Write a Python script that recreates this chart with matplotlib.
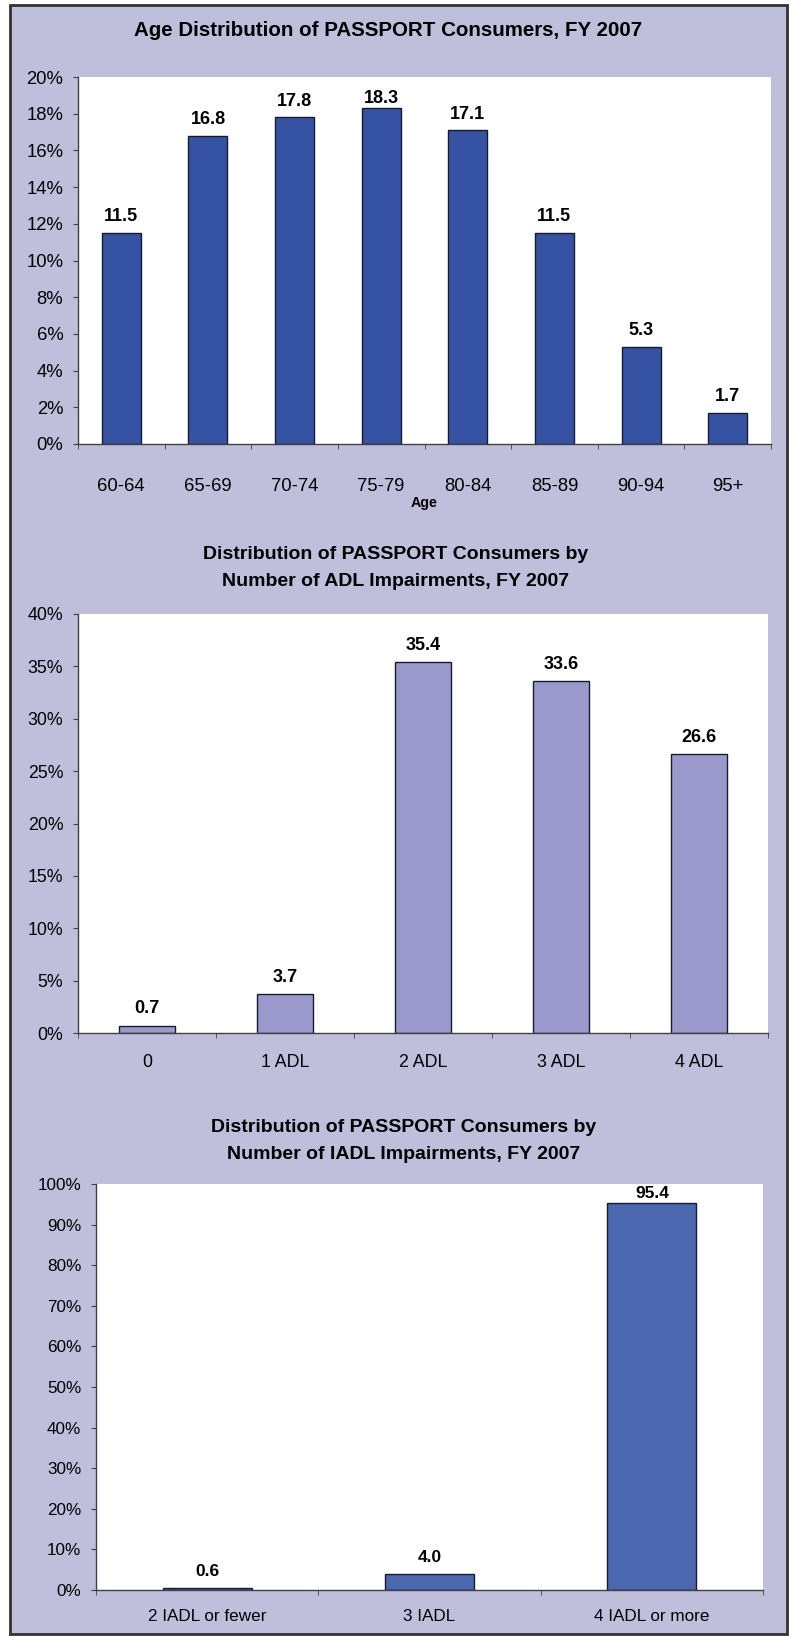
import numpy as np
import matplotlib.pyplot as plt
from matplotlib.patches import Rectangle
from matplotlib.ticker import FixedLocator

plt.rcParams['font.family'] = ['Liberation Sans', 'DejaVu Sans']

age_groups = ["60-64", "65-69", "70-74", "75-79", "80-84", "85-89", "90-94", "95+"]
age_pct = [11.5, 16.8, 17.8, 18.3, 17.1, 11.5, 5.3, 1.7]

adl_groups = ["0", "1 ADL", "2 ADL", "3 ADL", "4 ADL"]
adl_pct = [0.7, 3.7, 35.4, 33.6, 26.6]

iadl_groups = ["2 IADL or fewer", "3 IADL", "4 IADL or more"]
iadl_pct = [0.6, 4.0, 95.4]

W, H = 791, 1636
bg = "#bfbfdc"
fig = plt.figure(figsize=(W / 100, H / 100), dpi=100, facecolor="white")
frame = Rectangle((10 / W, 1 - 1634 / H), 777 / W, 1629 / H,
                  transform=fig.transFigure, facecolor=bg,
                  edgecolor="#333333", linewidth=2, zorder=-10)
fig.patches.append(frame)


def box(l, t, r, b):
    return [l / W, 1 - b / H, (r - l) / W, (b - t) / H]


def bar_chart(rect, cats, vals, color, width, ymax, ystep, tick_fs, val_fs, xpad, val_off):
    ax = fig.add_axes(rect)
    x = np.arange(len(cats))
    ax.bar(x, vals, width=width, color=color, edgecolor="#1a1a2e", linewidth=1)
    ax.set_xlim(-0.5, len(cats) - 0.5)
    ax.set_ylim(0, ymax)
    yt = np.arange(0, ymax + 0.01, ystep)
    ax.set_yticks(yt)
    ax.set_yticklabels(["%d%%" % v for v in yt], fontsize=tick_fs)
    ax.set_xticks(x)
    ax.set_xticklabels(cats, fontsize=tick_fs)
    ax.xaxis.set_minor_locator(FixedLocator(np.arange(-0.5, len(cats), 1.0)))
    ax.tick_params(axis="x", which="major", length=0, pad=xpad)
    ax.tick_params(axis="x", which="minor", length=3.6, color="#404040", direction="out")
    ax.tick_params(axis="y", length=3.6, color="#404040", pad=7)
    for s in ["top", "right"]:
        ax.spines[s].set_visible(False)
    for s in ["left", "bottom"]:
        ax.spines[s].set_color("#404040")
        ax.spines[s].set_linewidth(1)
    for xi, v in zip(x, vals):
        # labels near the top of the frame get squeezed down onto the bar
        off = 1 if v > 0.9 * ymax else val_off
        ax.annotate("%.1f" % v, (xi, v), xytext=(0, off), textcoords="offset points",
                    ha="center", va="bottom", fontsize=val_fs, fontweight="bold")
    return ax


ax1 = bar_chart(box(78, 77, 771, 444), age_groups, age_pct, "#3652a3", 0.45, 20, 2,
                13.3, 13, 24.5, 5.5)
ax1.set_xlabel("Age", fontsize=10.3, fontweight="bold", labelpad=1)
fig.text(388 / W, 1 - 30 / H, "Age Distribution of PASSPORT Consumers, FY 2007",
         ha="center", va="center", fontsize=14.8, fontweight="bold")

ax2 = bar_chart(box(78, 614, 768, 1033), adl_groups, adl_pct, "#9999cc", 0.4, 40, 5,
                12.8, 13, 15, 6)
fig.text(0.5, 1 - 568 / H, "Distribution of PASSPORT Consumers by\nNumber of ADL Impairments, FY 2007",
         ha="center", va="center", fontsize=14, fontweight="bold", linespacing=1.8)

ax3 = bar_chart(box(96, 1184, 763, 1590), iadl_groups, iadl_pct, "#4a67b0", 0.4, 100, 10,
                12.3, 12.5, 14, 6)
fig.text(404 / W, 1 - 1141 / H, "Distribution of PASSPORT Consumers by\nNumber of IADL Impairments, FY 2007",
         ha="center", va="center", fontsize=14, fontweight="bold", linespacing=1.75)

fig.savefig("out.png", dpi=100, facecolor="white")
